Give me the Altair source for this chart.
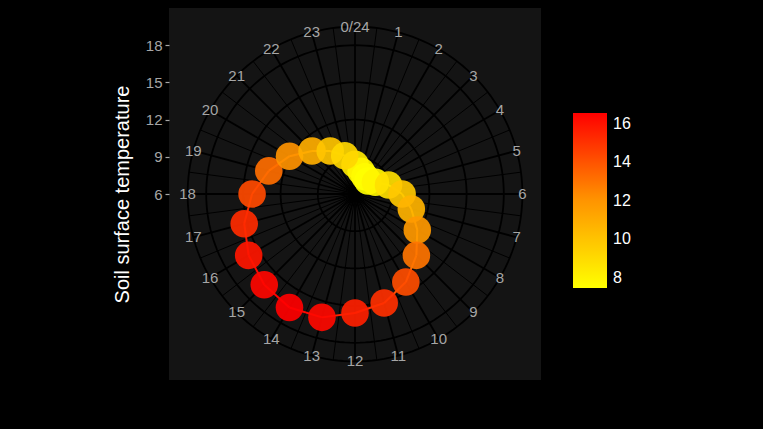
import math
import altair as alt
import pandas as pd

# ---- data ----
hours = list(range(24))
temps = [8.4, 7.9, 7.6, 7.48, 7.9, 8.8, 9.8, 10.7, 11.8, 13.0, 14.2, 15.1,
         15.6, 16.3, 16.57, 16.35, 15.9, 15.25, 14.3, 13.2, 12.1, 10.9, 10.0, 9.2]

hour_labels = ["0/24"] + [str(h) for h in range(1, 24)]
label_hours = list(range(24))
major_spokes = list(range(24))
minor_spokes = [h + 0.5 for h in range(24)]
radial_breaks = [9, 12, 15, 18]
radial_ticks = [6, 9, 12, 15, 18]
legend_ticks = [8, 10, 12, 14, 16]
color_stops = ["#FFFF00", "#FF9400", "#FF0000"]
r_min = 6
outer_r = 13.5  # outer ring in temperature units

FONT = "Liberation Sans"
GREY = "#a6a6a6"

df = pd.DataFrame({"hour": hours, "temp": temps})
df_lab = pd.DataFrame({"hour": label_hours, "label": hour_labels})
df_major = pd.DataFrame({"h": major_spokes})
df_minor = pd.DataFrame({"h": minor_spokes})
df_circ = pd.DataFrame({"r": [b - r_min for b in radial_breaks] + [outer_r]})

xs = alt.Scale(domain=[-15, 15], nice=False, zero=False)
ys = alt.Scale(domain=[-15, 15], nice=False, zero=False)
yaxis = alt.Axis(values=[t - r_min for t in radial_ticks],
                 labelExpr=f"datum.value + {r_min}",
                 title="Soil surface temperature",
                 grid=False, domain=False,
                 labelColor=GREY, labelFontSize=15, labelFont=FONT,
                 tickColor=GREY, tickSize=4, tickWidth=1.2, labelPadding=3,
                 titleColor="white", titleFontSize=20, titleFont=FONT,
                 titleFontWeight="normal", titlePadding=13)

cscale = alt.Scale(range=color_stops, interpolate="rgb", zero=False, nice=False)
legend = alt.Legend(title=None, type="gradient", orient="none",
                    legendX=404, legendY=105,
                    direction="vertical", gradientLength=175,
                    gradientThickness=34, gradientStrokeWidth=0,
                    labelColor="white", labelFontSize=16, labelFont=FONT,
                    values=legend_ticks, labelOffset=6)


def spokes(data, width):
    return alt.Chart(data).transform_calculate(
        x0="0", y0="0",
        ex=f"{outer_r} * sin(datum.h * PI / 12)",
        ey=f"{outer_r} * cos(datum.h * PI / 12)",
    ).mark_rule(color="black", strokeWidth=width).encode(
        x=alt.X("x0:Q", scale=xs, axis=None),
        y=alt.Y("y0:Q", scale=ys, axis=yaxis),
        x2="ex:Q", y2="ey:Q",
    )


minor = spokes(df_minor, 1.0)
major = spokes(df_major, 1.8)

circles = alt.Chart(df_circ).transform_calculate(
    a="sequence(0, 362, 2)"
).transform_flatten(["a"]).transform_calculate(
    cx="datum.r * sin(datum.a * PI / 180)",
    cy="datum.r * cos(datum.a * PI / 180)",
).mark_line(color="black", strokeWidth=1.8).encode(
    x=alt.X("cx:Q", scale=xs, axis=None),
    y=alt.Y("cy:Q", scale=ys, axis=yaxis),
    detail="r:N",
    order="a:Q",
)

labels = alt.Chart(df_lab).transform_calculate(
    lx=f"{outer_r} * sin(datum.hour * PI / 12)",
    ly=f"{outer_r} * cos(datum.hour * PI / 12)",
).mark_text(color=GREY, fontSize=15, font=FONT, align="center",
            baseline="middle").encode(
    x=alt.X("lx:Q", scale=xs, axis=None),
    y=alt.Y("ly:Q", scale=ys, axis=yaxis),
    text="label:N",
)

base = alt.Chart(df).transform_calculate(
    px=f"(datum.temp - {r_min}) * sin(datum.hour * PI / 12)",
    py=f"(datum.temp - {r_min}) * cos(datum.hour * PI / 12)",
)

segs = base.transform_window(
    px2="lead(px)", py2="lead(py)", sort=[{"field": "hour"}]
).transform_filter("isValid(datum.px2)").mark_rule(strokeWidth=2).encode(
    x=alt.X("px:Q", scale=xs, axis=None),
    y=alt.Y("py:Q", scale=ys, axis=yaxis),
    x2="px2:Q", y2="py2:Q",
    color=alt.Color("temp:Q", scale=cscale, legend=legend),
)

points = base.mark_circle(size=760, opacity=0.92).encode(
    x=alt.X("px:Q", scale=xs, axis=None),
    y=alt.Y("py:Q", scale=ys, axis=yaxis),
    color=alt.Color("temp:Q", scale=cscale, legend=None),
)

chart = alt.layer(minor, major, circles, segs, points, labels).resolve_legend(
    color="independent"
).properties(
    width=372, height=372,
    padding={"left": 169, "top": 8, "right": 222, "bottom": 49},
    autosize=alt.AutoSizeParams(type="none"),
    background="black",
    view=alt.ViewBackground(fill="#141414", strokeWidth=0),
)

chart.save("out.html", embed_options={"renderer": "svg", "actions": False})
